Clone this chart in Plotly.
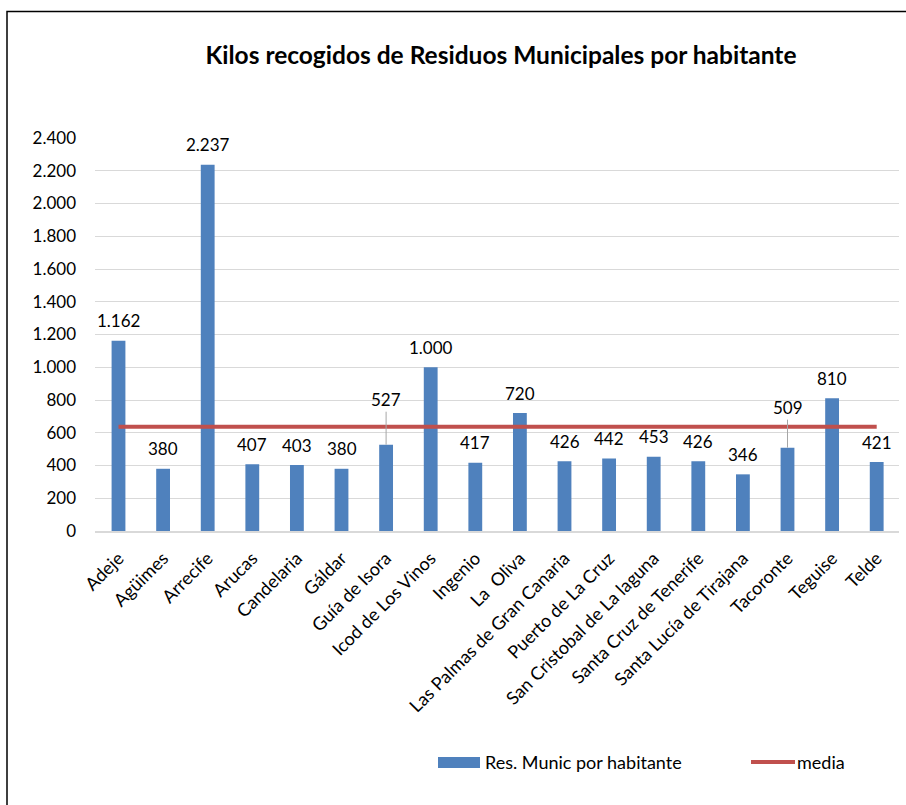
import plotly.graph_objects as go

# ---- data ----
municipios = ["Adeje", "Agüimes", "Arrecife", "Arucas", "Candelaria", "Gáldar",
              "Guía de Isora", "Icod de Los Vinos", "Ingenio", "La\u00a0\u00a0Oliva",
              "Las Palmas de Gran Canaria", "Puerto de La Cruz",
              "San Cristobal de La laguna", "Santa Cruz de Tenerife",
              "Santa Lucía de Tirajana", "Tacoronte", "Teguise", "Telde"]
kilos = [1162, 380, 2237, 407, 403, 380, 527, 1000, 417, 720, 426, 442, 453,
         426, 346, 509, 810, 421]
media_valor = 637
media = [media_valor for _ in municipios]
y_ticks = [0, 200, 400, 600, 800, 1000, 1200, 1400, 1600, 1800, 2000, 2200, 2400]
leader_labels = ["Guía de Isora", "Tacoronte"]  # labels lifted with a leader line

W, H = 906, 805
L, R, T, B = 95, 7, 138, 274
PW, PH = W - L - R, H - T - B
FONT = "Lato, 'Open Sans', sans-serif"
BLUE = "#4f81bd"
RED = "#c0504d"


def px(x):
    return (x - L) / PW


def py(y):
    return (H - B - y) / PH


def fmt(v):
    return f"{v:,}".replace(",", ".")


fig = go.Figure()
fig.add_trace(go.Bar(x=municipios, y=kilos, marker_color=BLUE,
                     marker_line_width=0, name="Res. Munic por habitante",
                     showlegend=False))
fig.add_trace(go.Scatter(x=municipios, y=media, mode="lines",
                         line=dict(color=RED, width=4), name="media",
                         showlegend=False))

annotations = []
for m, v in zip(municipios, kilos):
    if m in leader_labels:
        annotations.append(dict(x=m, y=v, xref="x", yref="y", text=fmt(v),
                                showarrow=True, arrowhead=0, arrowwidth=1,
                                arrowcolor="#a6a6a6", ax=0,
                                ay=-45 if m == "Guía de Isora" else -40,
                                standoff=0,
                                font=dict(family=FONT, size=17, color="#000")))
    else:
        annotations.append(dict(x=m, y=v, xref="x", yref="y", text=fmt(v),
                                showarrow=False, yanchor="middle", yshift=20,
                                font=dict(family=FONT, size=17, color="#000")))

# legend (manual)
annotations.append(dict(x=px(483), y=py(762), xref="paper", yref="paper",
                        text="Res. Munic por habitante", showarrow=False,
                        xanchor="left", yanchor="middle",
                        font=dict(family=FONT, size=18, color="#000")))
annotations.append(dict(x=px(795), y=py(762), xref="paper", yref="paper",
                        text="media", showarrow=False,
                        xanchor="left", yanchor="middle",
                        font=dict(family=FONT, size=18, color="#000")))

shapes = [
    dict(type="rect", xref="paper", yref="paper", x0=px(438), x1=px(480),
         y0=py(768), y1=py(757), fillcolor=BLUE, line_width=0),
    dict(type="line", xref="paper", yref="paper", x0=px(751), x1=px(795),
         y0=py(762), y1=py(762), line=dict(color=RED, width=4)),
    # chart frame
    dict(type="rect", xref="paper", yref="paper", x0=px(7), x1=px(920),
         y0=py(830), y1=py(11.5), line=dict(color="#000", width=1.5),
         fillcolor="rgba(0,0,0,0)", layer="above"),
]

fig.update_layout(
    width=W, height=H,
    margin=dict(l=L, r=R, t=T, b=B, autoexpand=False),
    paper_bgcolor="white", plot_bgcolor="white",
    separators=",.",
    bargap=0.69,
    font=dict(family=FONT, size=17, color="#000"),
    title=dict(text="<b>Kilos recogidos de Residuos Municipales por habitante</b>",
               xref="container", x=501 / W, xanchor="center",
               yref="container", y=1 - 55 / H, yanchor="middle",
               font=dict(family=FONT, size=24.5, color="#000")),
    annotations=annotations,
    shapes=shapes,
    showlegend=False,
)
fig.update_yaxes(range=[0, 2400], tickvals=y_ticks,
                 ticktext=[fmt(v) for v in y_ticks],
                 showgrid=True, gridcolor="#d9d9d9", gridwidth=1,
                 zeroline=False, showline=False, ticks="",
                 ticklabelstandoff=18,
                 tickfont=dict(family=FONT, size=17, color="#000"))
fig.update_xaxes(showline=True, linecolor="#d9d9d9", linewidth=1.5,
                 tickangle=-45, ticks="", ticklabelstandoff=8,
                 tickfont=dict(family=FONT, size=18, color="#000"))

fig.write_html("out.html",
               config={"displayModeBar": False},
               post_script="document.body.style.margin='0';"
                           "document.body.style.overflow='hidden';")
